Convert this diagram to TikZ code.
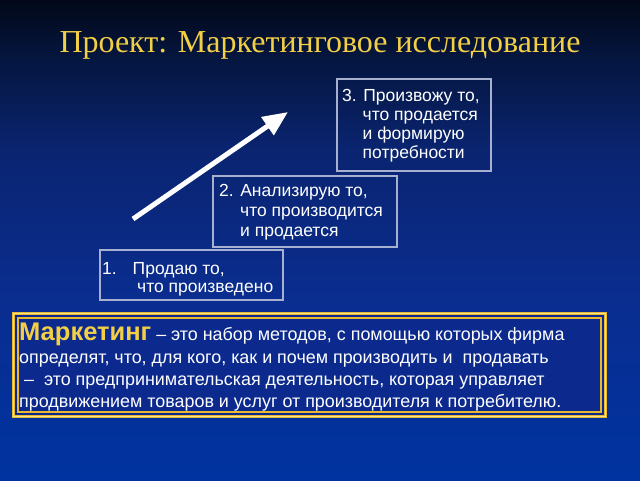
\documentclass[tikz,border=0pt]{standalone}
\usepackage{fontspec}
\setmainfont{Liberation Sans}
\newfontfamily\titlefont{Liberation Serif}
\usetikzlibrary{arrows.meta}
\definecolor{bgA}{HTML}{020818}
\definecolor{bgB}{HTML}{051640}
\definecolor{bgC}{HTML}{0A2470}
\definecolor{bgD}{HTML}{0A2D90}
\definecolor{bgE}{HTML}{0033A0}
\definecolor{gold}{HTML}{F2CF45}
\definecolor{goldB}{HTML}{E8B830}
\definecolor{goldL}{HTML}{F8E590}
\definecolor{boxline}{HTML}{A8B0D0}
\definecolor{defbg}{HTML}{0C2A8E}
\pgfdeclareverticalshading{bgshade}{100bp}{color(0bp)=(bgE); color(25bp)=(bgE); color(43.75bp)=(bgD); color(59.4bp)=(bgC); color(68.75bp)=(bgB); color(75bp)=(bgA); color(100bp)=(bgA)}
\tikzset{
  stepbox/.style={draw=boxline, line width=1.5pt},
  boxtext/.style={anchor=base west, inner sep=0pt, text=white, font=\fontsize{17.5}{20}\selectfont},
  deftext/.style={anchor=base west, inner sep=0pt, text=white, font=\fontsize{17.9}{22}\selectfont},
}
\begin{document}
\begin{tikzpicture}[x=1pt,y=-1pt]
\useasboundingbox (0,0) rectangle (640,480);
\shade[shading=bgshade] (0,0) rectangle (640,480);
% title
\node[anchor=base, inner sep=0pt, text=gold, font=\titlefont\fontsize{32}{36}\selectfont] (title) at (320,52) {Проект: Маркетинговое исследование};
% step boxes
\draw[stepbox] (337,79) rectangle (491,171);
\node[boxtext] (t3a) at (342,101.5) {3. Произвожу то,};
\node[boxtext] (t3b) at (362.5,120.5) {что продается};
\node[boxtext] (t3c) at (362.5,139) {и формирую};
\node[boxtext] (t3d) at (362.5,158) {потребности};
\draw[stepbox] (213,176) rectangle (397,247);
\node[boxtext] (t2a) at (219,196.5) {2. Анализирую то,};
\node[boxtext] (t2b) at (240,216.5) {что производится};
\node[boxtext] (t2c) at (240,236) {и продается};
\draw[stepbox] (100,250) rectangle (283,300);
\node[boxtext] (t1a) at (102,274) {1.};
\node[boxtext] (t1b) at (132.5,274) {Продаю то,};
\node[boxtext] (t1c) at (137,292) {что произведено};
% arrow
\coordinate (arrS) at (133,219);
\coordinate (arrE) at (288,112);
\draw[white, line width=5pt, -{Triangle[length=25pt,width=21pt]}] (arrS) -- (arrE);
% definition box
\fill[defbg] (13,313) rectangle (606,417);
\draw[goldB, line width=3.2pt] (13.5,313.5) rectangle (605.5,416.5);
\draw[goldL, line width=0.8pt] (13.5,313.5) rectangle (605.5,416.5);
\draw[goldB, line width=1.2pt] (18,318) rectangle (601,412);
\node[deftext] (d1) at (19,340.5) {{\color{gold}\fontsize{25.5}{26}\selectfont\bfseries Маркетинг} – это набор методов, с помощью которых фирма};
\node[deftext] (d2) at (19,363) {определят, что, для кого, как и почем производить и \ продавать};
\node[deftext] (d3) at (19,385.5) {\ –\ \ это предпринимательская деятельность, которая управляет};
\node[deftext] (d4) at (19,407) {продвижением товаров и услуг от производителя к потребителю.};
\end{tikzpicture}
\end{document}
